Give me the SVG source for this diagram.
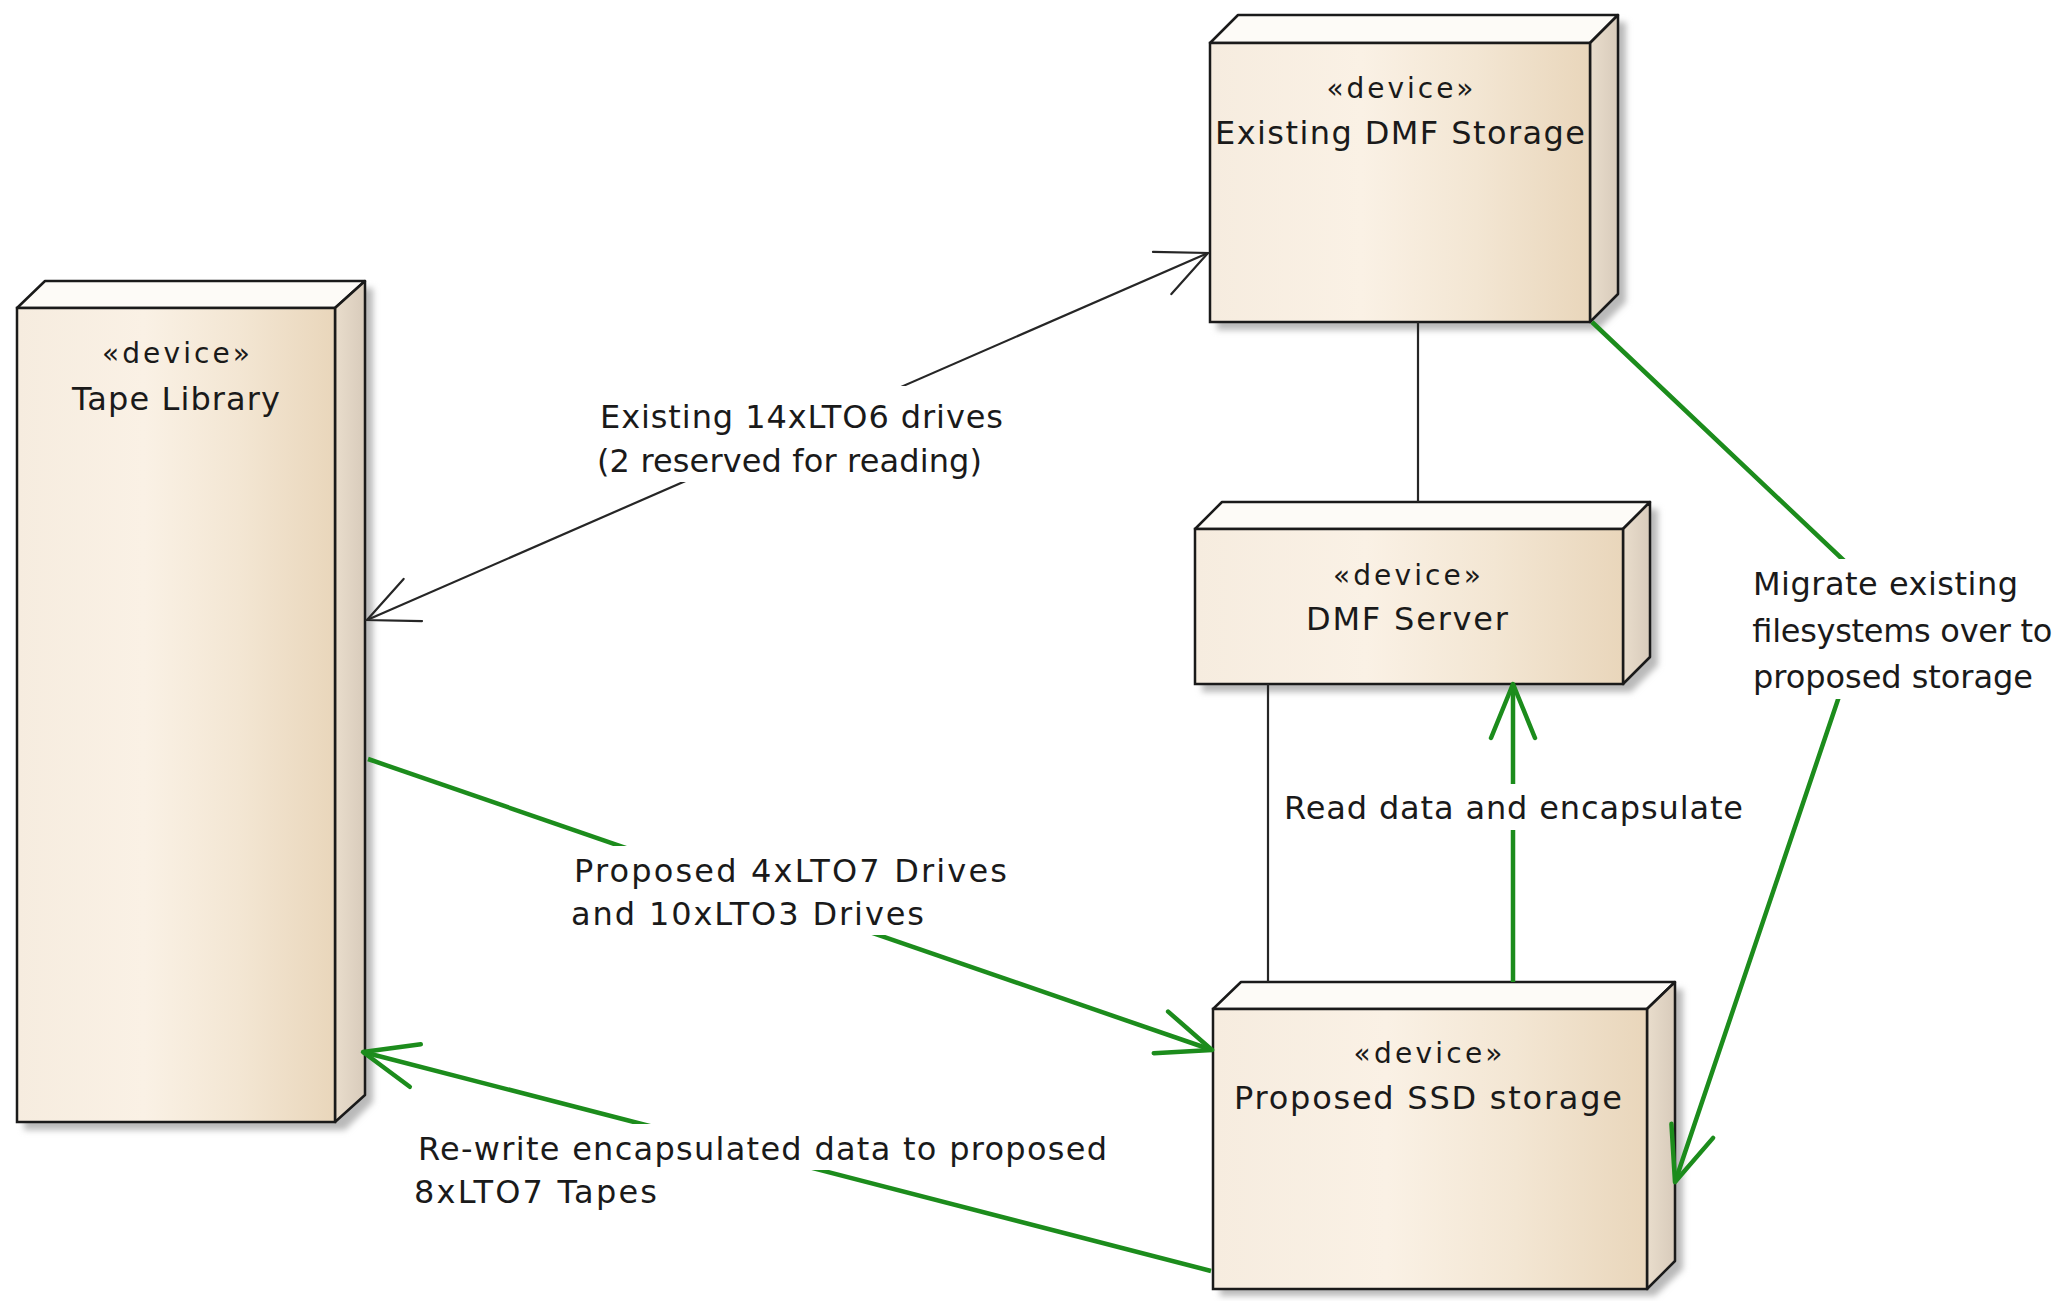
<svg xmlns="http://www.w3.org/2000/svg" width="2059" height="1301" viewBox="0 0 2059 1301">
<style>
.front{stroke:#1a1a1a;stroke-width:2.5;fill:url(#gFront)}
.top{stroke:#1a1a1a;stroke-width:2.5;fill:#fdfbf7;stroke-linejoin:round}
.side{stroke:#1a1a1a;stroke-width:2.5;fill:url(#gSide);stroke-linejoin:round}
.shadow{fill:#b9b9b9;filter:url(#blur)}
.st{font-family:"DejaVu Sans","Liberation Sans",sans-serif;font-size:28px;fill:#1a1a1a;text-anchor:middle}
.nm{font-family:"DejaVu Sans","Liberation Sans",sans-serif;font-size:32px;fill:#1a1a1a;text-anchor:middle}
.lb{font-family:"DejaVu Sans","Liberation Sans",sans-serif;font-size:32px;fill:#1a1a1a}
.bg{fill:#ffffff}
.blk{fill:none;stroke:#262626;stroke-width:2.2}
.grn{fill:none;stroke:#1c8c1c;stroke-width:4.5;stroke-linejoin:round}
</style>
<defs>
<linearGradient id="gFront" x1="0" y1="0" x2="1" y2="0">
<stop offset="0" stop-color="#f6ecdf"/>
<stop offset="0.4" stop-color="#faf1e5"/>
<stop offset="0.7" stop-color="#f3e6d3"/>
<stop offset="1" stop-color="#e9d6bb"/>
</linearGradient>
<linearGradient id="gSide" x1="0" y1="0" x2="1" y2="0">
<stop offset="0" stop-color="#e9ddcc"/>
<stop offset="1" stop-color="#d8cbbb"/>
</linearGradient>
<filter id="blur" x="-10%" y="-10%" width="120%" height="120%"><feGaussianBlur stdDeviation="3"/></filter>
<marker id="arrB" markerUnits="userSpaceOnUse" viewBox="-60 -30 70 60" refX="0" refY="0" markerWidth="70" markerHeight="60" orient="auto-start-reverse" overflow="visible">
<path d="M-50,-23 L0,0 L-50,23" fill="none" stroke="#262626" stroke-width="2.2" stroke-linecap="round"/>
</marker>
<marker id="arrG" markerUnits="userSpaceOnUse" viewBox="-60 -30 70 60" refX="0" refY="0" markerWidth="70" markerHeight="60" orient="auto" overflow="visible">
<path d="M-54,-22 L0,0 L-54,22" fill="none" stroke="#1c8c1c" stroke-width="4.5" stroke-linecap="round" stroke-linejoin="round"/>
</marker>
</defs>
<rect width="2059" height="1301" fill="#ffffff"/>

<g id="tape-library">
<polygon class="shadow" points="24,315 52,288 373,288 373,1102 345,1130 24,1130"/>
<polygon class="top" points="17,308 45,281 365,281 335,308"/>
<polygon class="side" points="335,308 365,281 365,1095 335,1122"/>
<rect class="front" x="17" y="308" width="318" height="814"/>
<text class="st" x="176" y="363" textLength="148" lengthAdjust="spacing">«device»</text>
<text class="nm" x="176" y="410" textLength="208" lengthAdjust="spacing">Tape Library</text>
</g>

<g id="existing-dmf-storage">
<polygon class="shadow" points="1217,50 1245,22 1626,22 1626,302 1598,330 1217,330"/>
<polygon class="top" points="1210,43 1238,15 1618,15 1590,43"/>
<polygon class="side" points="1590,43 1618,15 1618,294 1590,322"/>
<rect class="front" x="1210" y="43" width="380" height="279"/>
<text class="st" x="1400" y="98" textLength="147" lengthAdjust="spacing">«device»</text>
<text class="nm" x="1400" y="144" textLength="370" lengthAdjust="spacing">Existing DMF Storage</text>
</g>

<g id="dmf-server">
<polygon class="shadow" points="1202,536 1229,509 1658,509 1658,665 1631,692 1202,692"/>
<polygon class="top" points="1195,529 1222,502 1650,502 1623,529"/>
<polygon class="side" points="1623,529 1650,502 1650,657 1623,684"/>
<rect class="front" x="1195" y="529" width="428" height="155"/>
<text class="st" x="1407" y="585" textLength="148" lengthAdjust="spacing">«device»</text>
<text class="nm" x="1407" y="630" textLength="202" lengthAdjust="spacing">DMF Server</text>
</g>

<g id="proposed-ssd-storage">
<polygon class="shadow" points="1220,1016 1248,989 1683,989 1683,1269 1655,1296 1220,1296"/>
<polygon class="top" points="1213,1009 1241,982 1675,982 1647,1009"/>
<polygon class="side" points="1647,1009 1675,982 1675,1261 1647,1289"/>
<rect class="front" x="1213" y="1009" width="434" height="280"/>
<text class="st" x="1428" y="1063" textLength="149" lengthAdjust="spacing">«device»</text>
<text class="nm" x="1428" y="1109" textLength="388" lengthAdjust="spacing">Proposed SSD storage</text>
</g>

<g id="connectors">
<path class="blk" d="M367,620 L1208,253" marker-start="url(#arrB)" marker-end="url(#arrB)"/>
<path class="blk" d="M1418,322 L1418,502"/>
<path class="blk" d="M1268,684 L1268,982"/>
<path class="grn" d="M1513,982 L1513,684" marker-end="url(#arrG)"/>
<path class="grn" d="M1592,322 L1875,590 L1675,1182" marker-end="url(#arrG)"/>
<path class="grn" d="M368,759 L1212,1050" marker-end="url(#arrG)"/>
<path class="grn" d="M1211,1271 L363,1052" marker-end="url(#arrG)"/>
</g>

<g id="labels">
<rect class="bg" x="594" y="386" width="414" height="48"/>
<rect class="bg" x="592" y="432" width="394" height="50"/>
<text class="lb" x="600" y="428" textLength="403" lengthAdjust="spacing">Existing 14xLTO6 drives</text>
<text class="lb" x="597" y="472" textLength="385" lengthAdjust="spacing">(2 reserved for reading)</text>

<rect class="bg" x="1746" y="559" width="278" height="46"/>
<rect class="bg" x="1746" y="605" width="310" height="46"/>
<rect class="bg" x="1746" y="651" width="292" height="48"/>
<text class="lb" x="1753" y="595" textLength="265" lengthAdjust="spacing">Migrate existing</text>
<text class="lb" x="1752" y="642" textLength="300" lengthAdjust="spacing">filesystems over to</text>
<text class="lb" x="1753" y="688" textLength="280" lengthAdjust="spacing">proposed storage</text>

<rect class="bg" x="1278" y="784" width="470" height="46"/>
<text class="lb" x="1284" y="819" textLength="459" lengthAdjust="spacing">Read data and encapsulate</text>

<rect class="bg" x="568" y="846" width="444" height="46"/>
<rect class="bg" x="565" y="889" width="364" height="46"/>
<text class="lb" x="574" y="882" textLength="433" lengthAdjust="spacing">Proposed 4xLTO7 Drives</text>
<text class="lb" x="571" y="925" textLength="353" lengthAdjust="spacing">and 10xLTO3 Drives</text>

<rect class="bg" x="412" y="1124" width="700" height="46"/>
<rect class="bg" x="408" y="1167" width="254" height="46"/>
<text class="lb" x="418" y="1160" textLength="689" lengthAdjust="spacing">Re-write encapsulated data to proposed</text>
<text class="lb" x="414" y="1203" textLength="243" lengthAdjust="spacing">8xLTO7 Tapes</text>
</g>
</svg>
